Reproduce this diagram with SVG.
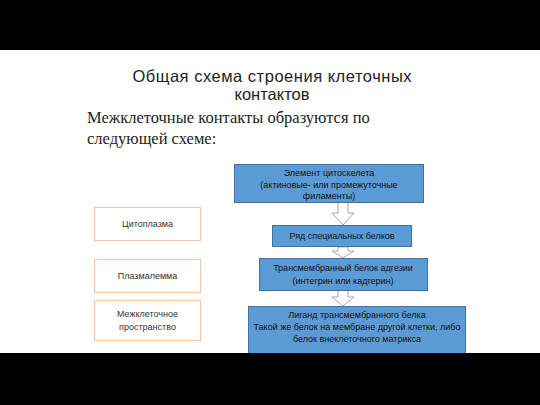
<svg xmlns="http://www.w3.org/2000/svg" width="540" height="405" viewBox="0 0 540 405">
<style>
.band{fill:#000}
.title{font-family:"Liberation Sans",Arial,sans-serif;font-size:16.5px;fill:#222;text-anchor:middle}
.lead{font-family:"Liberation Serif","Times New Roman",serif;font-size:16.5px;fill:#222}
.blue{fill:#5B9BD5;stroke:#41719C;stroke-width:1}
.peach{fill:#fff;stroke:#F4C4A4;stroke-width:1}
.bt{font-family:"Liberation Sans",Arial,sans-serif;font-size:9px;fill:#111;text-anchor:middle}
.lt{font-family:"Liberation Sans",Arial,sans-serif;font-size:9px;fill:#333;text-anchor:middle}
.arrow{fill:#fff;stroke:#A5A5A5;stroke-width:1}
</style>
<rect width="540" height="405" fill="#fff"/>
<rect class="band" x="0" y="0" width="540" height="50"/>
<text class="title" x="272" y="82" textLength="279" lengthAdjust="spacing">Общая схема строения клеточных</text>
<text class="title" x="272" y="99.5">контактов</text>
<text class="lead" x="87" y="123">Межклеточные контакты образуются по</text>
<text class="lead" x="87" y="144">следующей схеме:</text>
<g id="connectors">
<path class="arrow" d="M338,202 V213 H332 L343,225 L354,213 H348 V202 Z"/>
<path class="arrow" d="M338,247 V251 H332 L343,258 L354,251 H348 V247 Z"/>
<path class="arrow" d="M338,290 V297 H332 L343,306 L354,297 H348 V290 Z"/>
</g>
<g id="n1">
<rect class="blue" x="234.5" y="164.5" width="189" height="38"/>
<text class="bt" x="329" y="176">Элемент цитоскелета</text>
<text class="bt" x="329" y="188">(актиновые- или промежуточные</text>
<text class="bt" x="329" y="199">филаменты)</text>
</g>
<g id="n2">
<rect class="blue" x="272.5" y="225.5" width="139" height="21"/>
<text class="bt" x="342" y="239">Ряд специальных белков</text>
</g>
<g id="n3">
<rect class="blue" x="259.5" y="258.5" width="168" height="32"/>
<text class="bt" x="343" y="271">Трансмембранный белок адгезии</text>
<text class="bt" x="343" y="284">(интегрин или кадгерин)</text>
</g>
<g id="n4">
<rect class="blue" x="248.5" y="306.5" width="217" height="47"/>
<text class="bt" x="357" y="318">Лиганд трансмембранного белка</text>
<text class="bt" x="357" y="330">Такой же белок на мембране другой клетки, либо</text>
<text class="bt" x="357" y="342">белок внеклеточного матрикса</text>
</g>
<g id="c1">
<rect class="peach" x="94.5" y="207.5" width="106" height="33"/>
<text class="lt" x="147.5" y="227">Цитоплазма</text>
</g>
<g id="c2">
<rect class="peach" x="94.5" y="259.5" width="106" height="33"/>
<text class="lt" x="147.5" y="279">Плазмалемма</text>
</g>
<g id="c3">
<rect class="peach" x="94.5" y="300.5" width="106" height="40"/>
<text class="lt" x="147.5" y="317">Межклеточное</text>
<text class="lt" x="147.5" y="330">пространство</text>
</g>
<rect class="band" x="0" y="353" width="540" height="52"/>
</svg>
